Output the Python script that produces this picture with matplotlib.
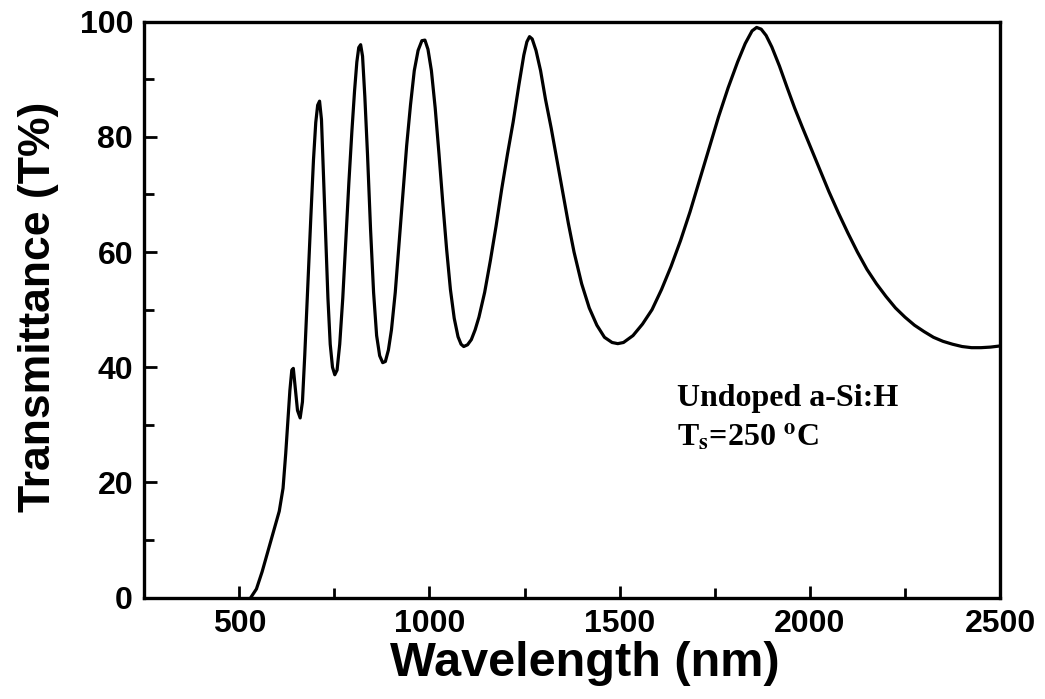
import matplotlib.pyplot as plt
from matplotlib.ticker import MultipleLocator

plt.rcParams['mathtext.fontset'] = 'stix'

wavelength = [530, 545, 560, 575, 590, 605, 615, 622, 628, 633, 638, 642, 647, 653, 660,
              666, 672, 680, 688, 695, 701, 706, 711, 716, 721, 727, 733, 739, 745, 751,
              757, 764, 772, 780, 788, 796, 803, 809, 814, 819, 824, 830, 837, 845, 853,
              861, 869, 877, 884, 892, 900, 910, 920, 930, 940, 950, 960, 970, 980, 988,
              996, 1005, 1015, 1025, 1035, 1045, 1055, 1065, 1075, 1083, 1090, 1100, 1110,
              1120, 1130, 1145, 1160, 1175, 1190, 1205, 1220, 1235, 1248, 1256, 1263, 1270,
              1280, 1292, 1305, 1320, 1335, 1350, 1365, 1380, 1400, 1420, 1440, 1460, 1480,
              1495, 1510, 1535, 1560, 1585, 1610, 1635, 1660, 1685, 1710, 1735, 1760, 1785,
              1810, 1830, 1848, 1860, 1872, 1885, 1900, 1920, 1940, 1960, 1980, 2000, 2025,
              2050, 2075, 2100, 2125, 2150, 2175, 2200, 2225, 2250, 2275, 2300, 2325, 2350,
              2375, 2400, 2425, 2450, 2475, 2500]
transmittance = [0, 1.5, 4.5, 8, 11.5, 15, 19, 25, 31, 36, 39.5, 39.8, 36.5, 32.5, 31.2,
                 34, 42, 54, 66, 76, 82.5, 85.5, 86.2, 83, 74, 63, 52, 44, 40, 38.7,
                 39.5, 44, 52, 62, 72, 81, 88, 93, 95.5, 96, 94, 87, 77, 64, 53,
                 45.5, 42, 40.8, 41, 43, 46.5, 53, 61.5, 70, 78.5, 85.5, 91.5, 95, 96.7, 96.8,
                 95.2, 91.5, 85, 77, 68.5, 60.5, 53.5, 48.5, 45.3, 44, 43.6, 43.9, 44.8,
                 46.5, 48.7, 53, 58.5, 64.5, 71, 77, 82.6, 89, 94.2, 96.5, 97.4, 97,
                 95, 91.5, 86.5, 81.5, 76, 70.5, 65, 60, 54.5, 50.3, 47.3, 45.2, 44.3,
                 44.1, 44.3, 45.5, 47.5, 50, 53.5, 57.5, 62, 67, 72.5, 78, 83.5, 88.5,
                 93, 96.2, 98.4, 99, 98.7, 97.6, 95.6, 92.3, 88.6, 85, 81.7, 78.5, 74.5,
                 70.5, 66.8, 63.3, 60, 57, 54.5, 52.3, 50.3, 48.7, 47.3, 46.2, 45.2, 44.5,
                 44, 43.6, 43.4, 43.4, 43.5, 43.7]

x_ticks = [500, 1000, 1500, 2000, 2500]
y_ticks = [0, 20, 40, 60, 80, 100]

fig = plt.figure(figsize=(10.45, 6.99), dpi=100)
ax = fig.add_axes([0.138, 0.145, 0.819, 0.824])

ax.plot(wavelength, transmittance, color='black', linewidth=2.3,
        solid_joinstyle='round', solid_capstyle='round')

ax.set_xlim(250, 2500)
ax.set_ylim(0, 100)
ax.set_xticks(x_ticks)
ax.set_yticks(y_ticks)
ax.xaxis.set_minor_locator(MultipleLocator(250))
ax.yaxis.set_minor_locator(MultipleLocator(10))
ax.tick_params(which='both', direction='in', top=False, right=False, width=2, pad=8)
ax.tick_params(which='major', length=9)
ax.tick_params(which='minor', length=7)

for lab in ax.get_xticklabels() + ax.get_yticklabels():
    lab.set_fontfamily(['Liberation Sans', 'DejaVu Sans'])
    lab.set_fontweight('bold')
    lab.set_fontsize(23)

for s in ax.spines.values():
    s.set_linewidth(2.4)

ax.set_xlabel('Wavelength (nm)', fontsize=35, fontweight='bold',
              family=['Liberation Sans', 'DejaVu Sans'])
ax.xaxis.set_label_coords(0.515, -0.075, transform=ax.transAxes)
ax.xaxis.label.set_va('top')
ax.set_ylabel('Transmittance (T%)', fontsize=32, fontweight='bold',
              family=['Liberation Sans', 'DejaVu Sans'])
ax.yaxis.set_label_coords(-0.1, 0.505, transform=ax.transAxes)

# Beschriftung der Probe
fig.text(0.648, 0.45, 'Undoped a-Si:H', fontsize=23, fontweight='bold',
         family='Liberation Serif', va='top')
fig.text(0.648, 0.397, r'T$_\mathbf{s}$=250 $^\mathbf{o}$C', fontsize=23, fontweight='bold',
         family='Liberation Serif', va='top')

fig.savefig('out.png', dpi=100)
